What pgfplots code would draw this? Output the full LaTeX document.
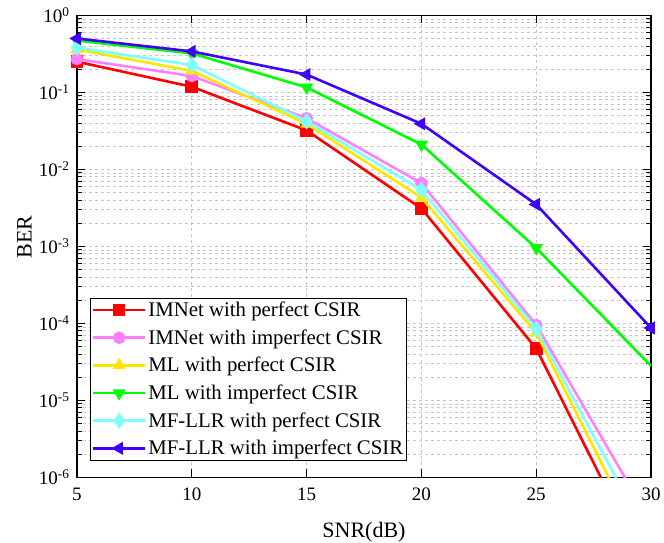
\documentclass[border=0pt]{standalone}
\usepackage{fontspec}
\setmainfont{Liberation Serif}
\usepackage{pgfplots}
\pgfplotsset{compat=1.18}

\definecolor{cRed}{RGB}{255,0,0}
\definecolor{cPink}{RGB}{255,128,255}
\definecolor{cYel}{RGB}{255,230,0}
\definecolor{cGrn}{RGB}{0,255,0}
\definecolor{cCyan}{RGB}{128,255,255}
\definecolor{cBlue}{RGB}{64,0,255}

\begin{document}
\begin{tikzpicture}
% page frame, same margins as the reference
\useasboundingbox (-77pt,-64.7pt) rectangle (587pt,477.3pt);
\begin{axis}[
    at={(0,0)}, anchor=south west,
    scale only axis,
    width=574pt, height=462pt,
    ymode=log,
    xmin=5, xmax=30,
    ymin=1e-6, ymax=1,
    xtick={5,10,15,20,25,30},
    ytick={1e-6,1e-5,1e-4,1e-3,1e-2,1e-1,1},
    yticklabels={10\textsuperscript{-6},10\textsuperscript{-5},10\textsuperscript{-4},10\textsuperscript{-3},10\textsuperscript{-2},10\textsuperscript{-1},10\textsuperscript{0}},
    xticklabel style={font=\fontsize{19}{19}\selectfont, yshift=-7pt},
    yticklabel style={font=\fontsize{19}{19}\selectfont, xshift=-4pt},
    /pgf/number format/assume math mode=true,
    xlabel={SNR(dB)},
    ylabel={BER},
    every axis x label/.style={at={(axis description cs:0.5,-0.13)}, anchor=base,
        font=\fontsize{22}{22}\selectfont},
    every axis y label/.style={at={(axis description cs:-0.0784,0.52)}, rotate=90,
        anchor=south, inner sep=0pt, font=\fontsize{22}{22}\selectfont},
    axis line style={line width=1.2pt},
    major tick length=8pt,
    minor tick length=5pt,
    every tick/.style={black, line width=0.8pt},
    grid=both,
    major grid style={gray!45, dashed, line width=0.6pt},
    minor grid style={gray!45, dashed, line width=0.6pt},
    clip mode=individual,
    every axis plot/.append style={line width=2.6pt, mark size=5pt, mark indices={1,2,3,4,5}},
    legend style={at={(axis description cs:0.0227,0.037)}, anchor=south west, draw=black, line width=0.6pt,
        font=\fontsize{20.8}{25}\selectfont, inner sep=1.5pt, row sep=7.5pt,
        cells={anchor=west}},
    legend image code/.code={
        \draw[mark indices={2}] plot coordinates {(0pt,0pt) (26pt,0pt) (52pt,0pt)};
    },
]
\addplot[cRed, mark=square*] coordinates {
(5,0.25) (10,0.118) (15,0.032) (20,3.1e-3) (25,4.7e-5) (30,5e-8)};
\addlegendentry{IMNet with perfect CSIR}
\addplot[cPink, mark=*] coordinates {
(5,0.27) (10,0.163) (15,0.046) (20,6.6e-3) (25,9.5e-5) (30,2.6e-7)};
\addlegendentry{IMNet with imperfect CSIR}
\addplot[cYel, mark=triangle*] coordinates {
(5,0.36) (10,0.19) (15,0.039) (20,4.3e-3) (25,7.5e-5) (30,8e-8)};
\addlegendentry{ML with perfect CSIR}
\addplot[cGrn, mark=triangle*, mark options={rotate=180}] coordinates {
(5,0.47) (10,0.32) (15,0.116) (20,0.021) (25,9.5e-4) (30,2.8e-5)};
\addlegendentry{ML with imperfect CSIR}
\addplot[cCyan, mark=diamond*, mark size=6pt] coordinates {
(5,0.38) (10,0.226) (15,0.042) (20,5.4e-3) (25,8.5e-5) (30,1.4e-7)};
\addlegendentry{MF-LLR with perfect CSIR}
\addplot[cBlue, mark=triangle*, mark options={rotate=90}, mark indices={1,2,3,4,5,6}] coordinates {
(5,0.50) (10,0.34) (15,0.17) (20,0.039) (25,3.5e-3) (30,8.7e-5)};
\addlegendentry{MF-LLR with imperfect CSIR}
\end{axis}
\end{tikzpicture}
\end{document}
